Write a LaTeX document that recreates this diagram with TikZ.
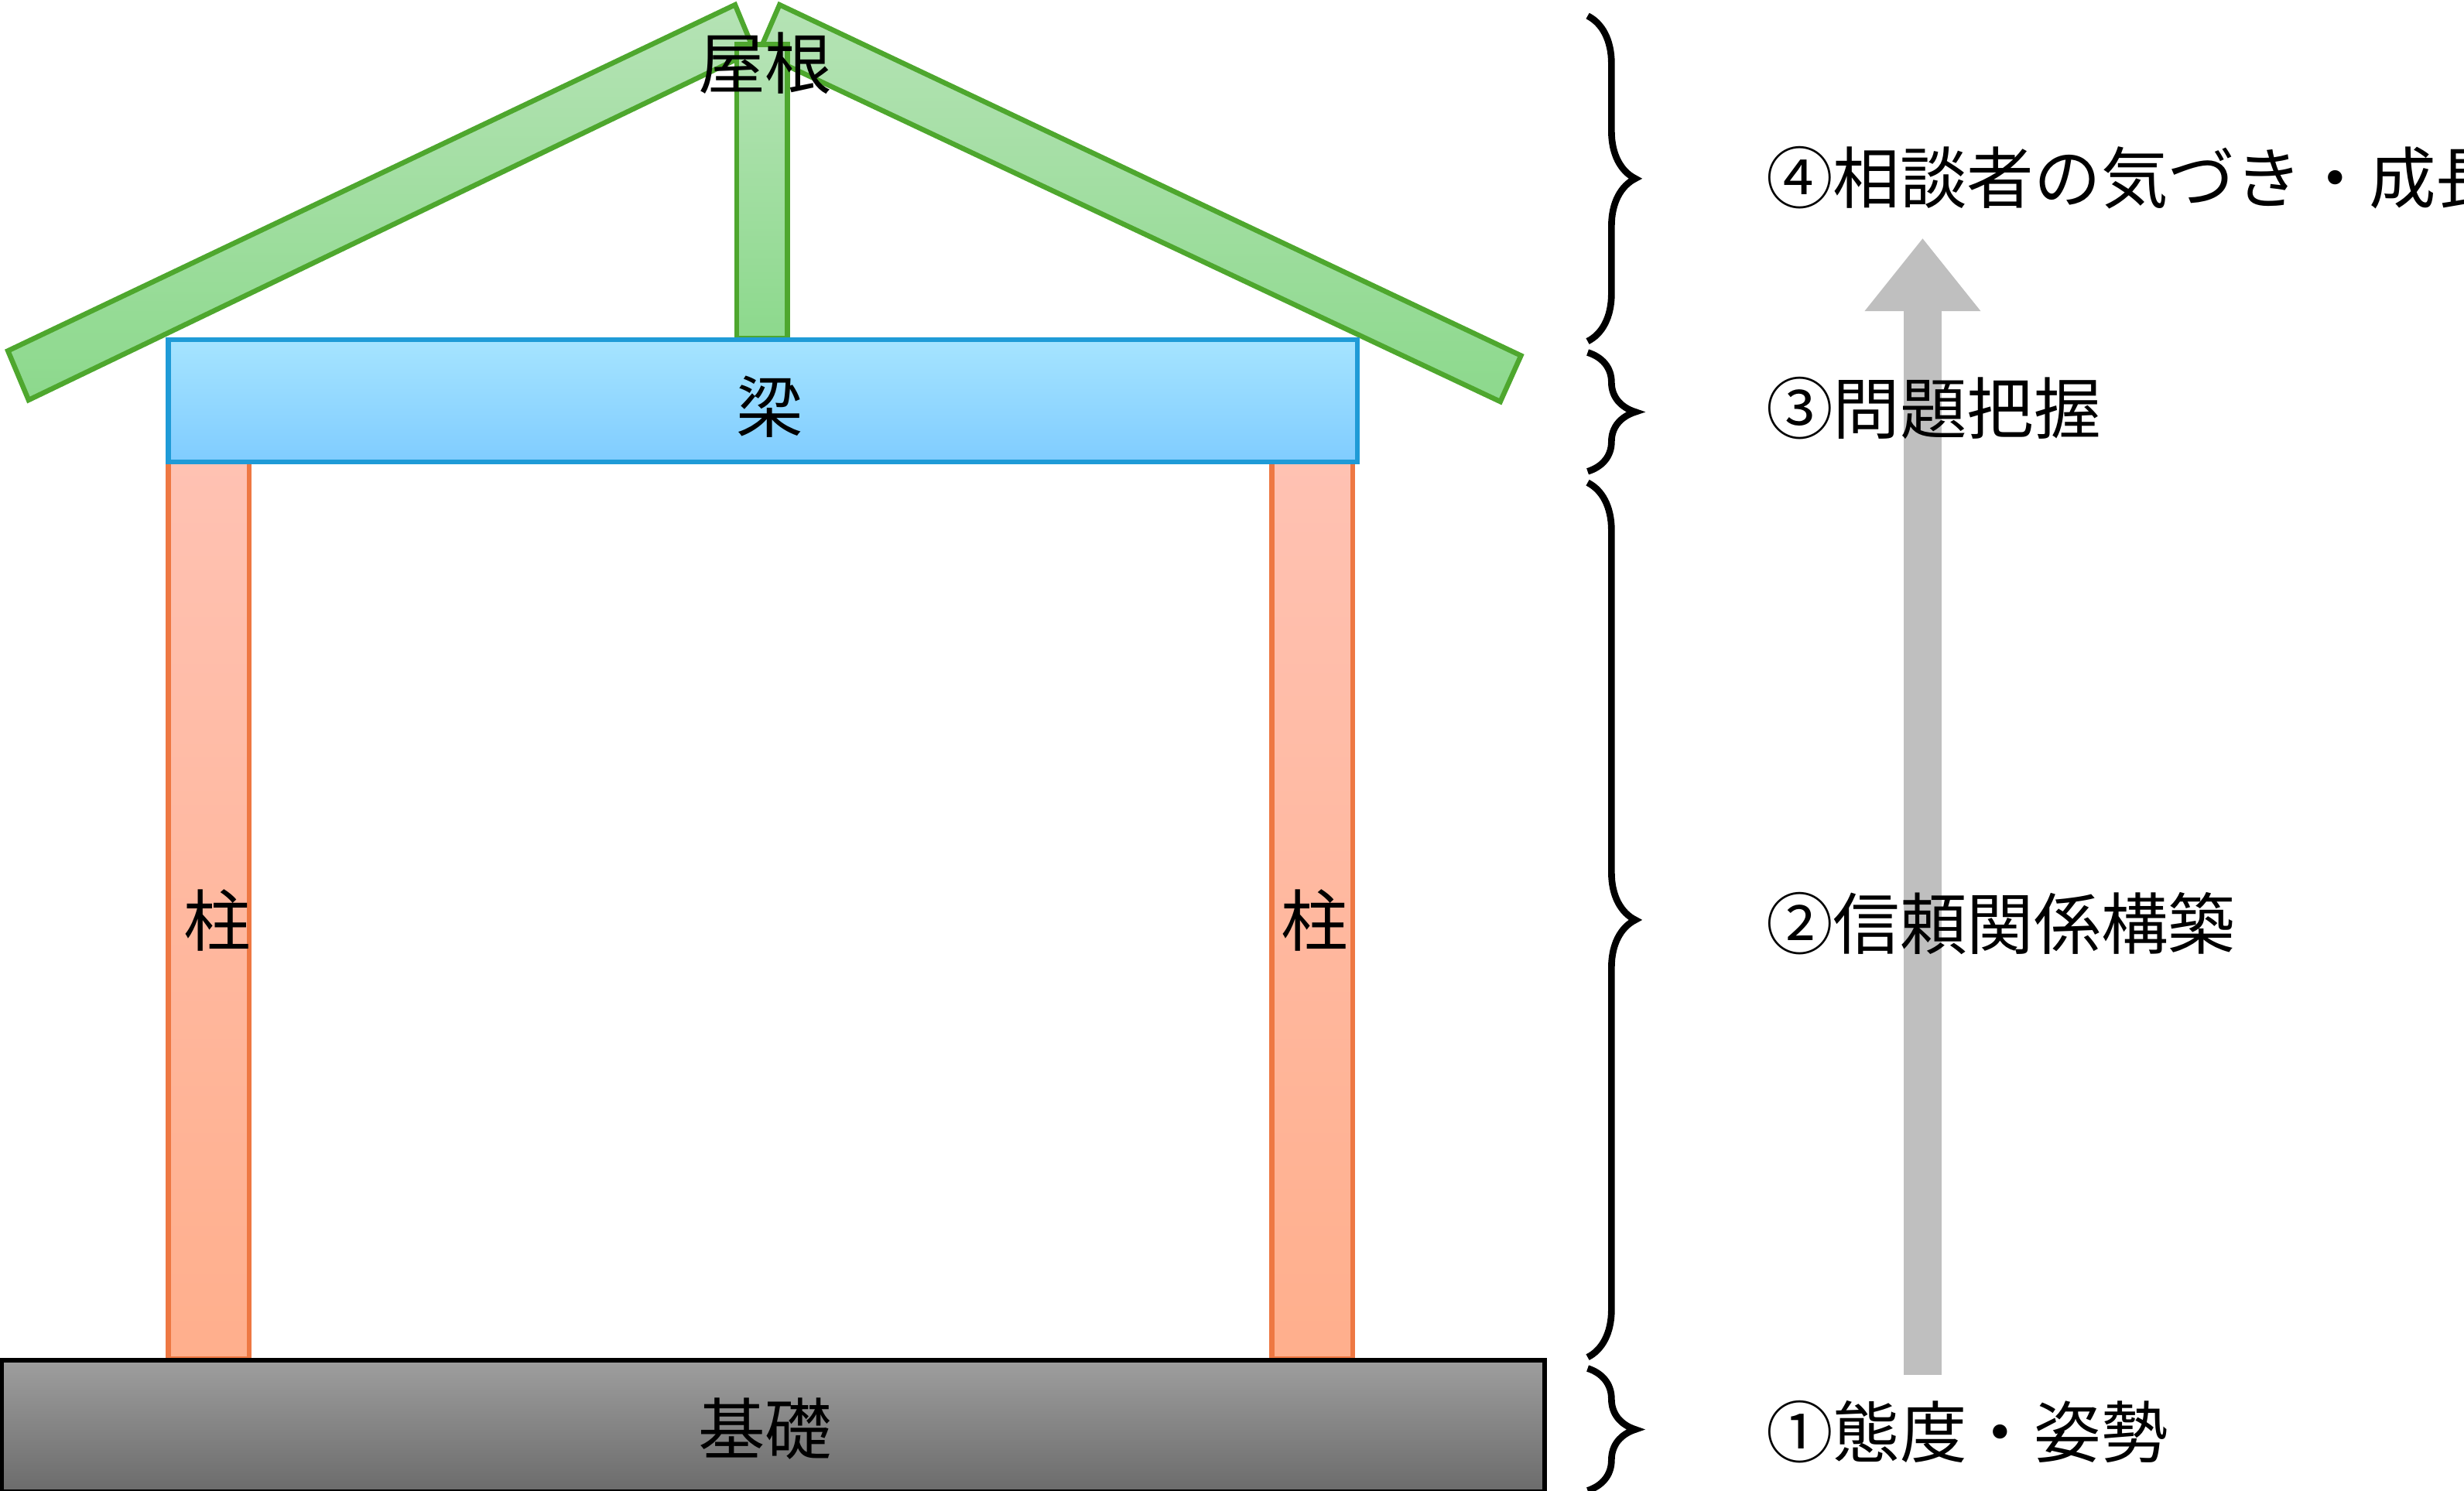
\documentclass[tikz,border=0pt]{standalone}
\usepackage{fontspec}
\setmainfont{Noto Sans CJK JP}
\usetikzlibrary{decorations.pathreplacing,arrows.meta}
\definecolor{roofgreen}{HTML}{4EA72E}
\definecolor{pillarred}{HTML}{EE7843}
\definecolor{beamblue}{HTML}{1F9BD7}
\tikzset{
  roofpart/.style={draw=roofgreen, line width=0.9pt, top color=green!45!gray!40!white, bottom color=green!50!gray!60!white},
  pillar/.style={draw=pillarred, line width=0.9pt, top color=orange!40!red!30!white, bottom color=orange!60!red!45!white},
  label/.style={font=\fontsize{12}{14}\selectfont},
  stagebrace/.style={decorate, decoration={brace, amplitude=0.3cm}, line width=1.2pt},
}
\begin{document}
\begin{tikzpicture}[x=0.01cm, y=-0.01cm]
\useasboundingbox (0,0) rectangle (1552,939);

% Roof
\filldraw[roofpart] (5,221) -- (18,252) -- (475,32) -- (463,3) -- cycle;
\filldraw[roofpart] (958,224) -- (945,253) -- (478,33) -- (491,3) -- cycle;
\filldraw[roofpart] (464,28) rectangle (496,213);
\node[label] (roof) at (482,40) {屋根};

% Pillars and beam
\filldraw[pillar] (106,291) rectangle (157,856);
\filldraw[pillar] (801,291) rectangle (852,856);
\node[label] (pillar-l) at (137,580) {柱};
\node[label] (pillar-r) at (828,580) {柱};
\filldraw[draw=beamblue, line width=0.9pt, top color=blue!30!cyan!35!white, bottom color=blue!40!cyan!50!white] (106,214) rectangle (855,291);
\node[label] (beam) at (485,256) {梁};

% Foundation
\filldraw[draw=black, line width=0.9pt, top color=black!38, bottom color=black!58] (1,857) rectangle (973,940);
\node[label] (base) at (482,900) {基礎};

% Arrow
\coordinate (arrow-start) at (1211,866);
\coordinate (arrow-end) at (1211,150);
\draw[black!25, line width=0.24cm, -{Triangle[length=0.46cm, width=0.7cm]}] (arrow-start) -- (arrow-end);

% Braces
\coordinate (b0) at (1000,10);
\coordinate (b1) at (1000,215);
\coordinate (b2) at (1000,297);
\coordinate (b3) at (1000,855);
\coordinate (b4) at (1000,939);
\draw[stagebrace] (b0) -- (b1);
\draw[stagebrace] ([yshift=-2pt]b1) -- (b2);
\draw[stagebrace] ([yshift=-2pt]b2) -- (b3);
\draw[stagebrace] ([yshift=-2pt]b3) -- (b4);

% Stages
\node[label, anchor=west] (stage4) at (1100,112) {④相談者の気づき・成長};
\node[label, anchor=west] (stage3) at (1100,257) {③問題把握};
\node[label, anchor=west] (stage2) at (1100,582) {②信頼関係構築};
\node[label, anchor=west] (stage1) at (1100,902) {①態度・姿勢};
\end{tikzpicture}
\end{document}
